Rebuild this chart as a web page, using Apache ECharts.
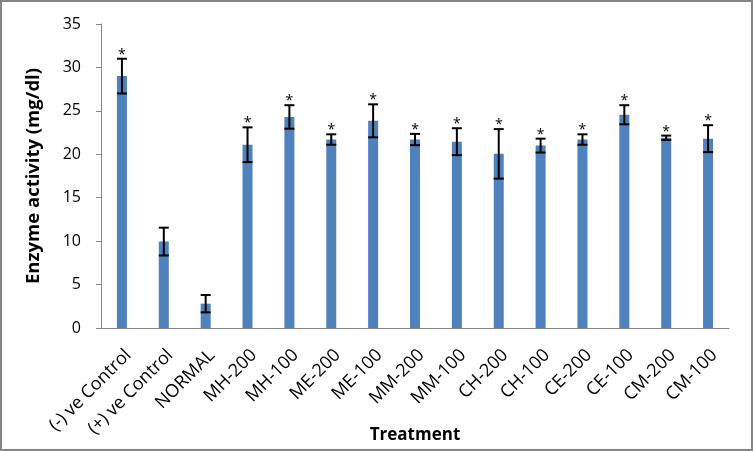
<!DOCTYPE html>
<html>
<head>
<meta charset="utf-8">
<script src="https://cdn.jsdelivr.net/npm/echarts@6/dist/echarts.min.js"></script>
<style>
html,body{margin:0;padding:0;background:#fff;}
#wrap{width:753px;height:451px;box-sizing:border-box;border:2px solid #868686;background:#fff;}
#chart{width:749px;height:447px;}
</style>
</head>
<body>
<div id="wrap"><div id="chart"></div></div>
<script>
const categories = ['(-) ve Control','(+) ve Control','NORMAL','MH-200','MH-100','ME-200','ME-100','MM-200','MM-100','CH-200','CH-100','CE-200','CE-100','CM-200','CM-100'];
const values = [29.0, 9.95, 2.8, 21.1, 24.3, 21.7, 23.85, 21.7, 21.45, 20.05, 21.0, 21.7, 24.55, 21.9, 21.8];
const errors = [2.0, 1.6, 1.0, 2.0, 1.35, 0.6, 1.9, 0.65, 1.55, 2.85, 0.8, 0.6, 1.1, 0.25, 1.55];
const significant = [1, 0, 0, 1, 1, 1, 1, 1, 1, 1, 1, 1, 1, 1, 1];
const yTicks = [0, 5, 10, 15, 20, 25, 30, 35];

const errData = categories.map((c, i) => [i, values[i], errors[i], significant[i]]);

const chart = echarts.init(document.getElementById('chart'));
chart.setOption({
  animation: false,
  grid: {left: 99, right: 22, top: 22, bottom: 121, containLabel: false, outerBoundsMode: 'none'},
  xAxis: {
    type: 'category',
    data: categories,
    name: 'Treatment',
    nameLocation: 'middle',
    nameGap: 99,
    nameMoveOverlap: false,
    nameTextStyle: {fontFamily: 'Open Sans', fontWeight: 'bold', fontSize: 17, color: '#000'},
    axisLine: {lineStyle: {color: '#868686', width: 1}},
    axisTick: {show: false},
    axisLabel: {rotate: 45, interval: 0, fontFamily: 'Open Sans', fontSize: 18, color: '#000', margin: 18,
      align: 'right', verticalAlign: 'top'}
  },
  yAxis: {
    type: 'value',
    min: 0, max: 35, interval: 5,
    name: 'Enzyme activity (mg/dl)',
    nameLocation: 'middle',
    nameGap: 58,
    nameMoveOverlap: false,
    nameTextStyle: {fontFamily: 'Open Sans', fontWeight: 'bold', fontSize: 18.5, color: '#000'},
    axisLine: {show: true, lineStyle: {color: '#868686', width: 1}},
    axisTick: {show: true, inside: false, length: 5, lineStyle: {color: '#868686'}},
    splitLine: {show: false},
    axisLabel: {fontFamily: 'Open Sans', fontSize: 16, color: '#000', margin: 20,
      formatter: v => yTicks.includes(v) ? String(v) : ''}
  },
  series: [
    {
      type: 'bar',
      data: values,
      barWidth: 10,
      itemStyle: {color: '#4F81BD'}
    },
    {
      type: 'custom',
      data: errData,
      z: 10,
      renderItem: function (params, api) {
        const i = api.value(0), v = api.value(1), e = api.value(2), s = api.value(3);
        const top = api.coord([i, v + e]);
        const bot = api.coord([i, v - e]);
        const hw = 5;
        const children = [
          {type: 'line', shape: {x1: top[0], y1: top[1], x2: bot[0], y2: bot[1]}, style: {stroke: '#000', lineWidth: 2}},
          {type: 'line', shape: {x1: top[0] - hw, y1: top[1], x2: top[0] + hw, y2: top[1]}, style: {stroke: '#000', lineWidth: 2}},
          {type: 'line', shape: {x1: bot[0] - hw, y1: bot[1], x2: bot[0] + hw, y2: bot[1]}, style: {stroke: '#000', lineWidth: 2}}
        ];
        if (s) {
          children.push({type: 'text', style: {text: '*', x: top[0], y: top[1] - 4, align: 'center', verticalAlign: 'middle', fontFamily: 'Open Sans', fontSize: 14, fill: '#000'}});
        }
        return {type: 'group', children: children};
      }
    }
  ]
});
</script>
</body>
</html>
